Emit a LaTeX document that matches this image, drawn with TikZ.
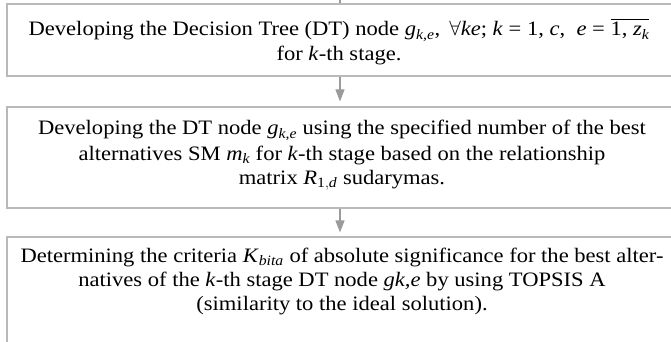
\documentclass[tikz,border=0pt]{standalone}
\usepackage{amsmath}
\usepackage{fontspec}
\setmainfont[FakeStretch=1.1]{Liberation Serif}
\usetikzlibrary{arrows.meta}
\newcommand\vi[1]{\text{\normalfont\itshape #1}}
\definecolor{boxgray}{RGB}{185,185,185}
\definecolor{arrgray}{RGB}{155,155,155}
\tikzset{
  box/.style={draw=boxgray, line width=1.1pt, rectangle, inner sep=0pt},
  txt/.style={anchor=base, inner sep=0pt, font=\fontsize{20.5}{24}\selectfont},
  arr/.style={draw=arrgray, line width=1.1pt, -{Triangle[width=9pt,length=12pt]}},
  stub/.style={draw=arrgray, line width=1.1pt}
}
\begin{document}
\begin{tikzpicture}[x=1pt,y=-1pt]
\useasboundingbox (0,0) rectangle (671,342);
\clip (0,0) rectangle (671,342);
\fill[white] (0,0) rectangle (671,342);
% boxes
\node[box, minimum width=667pt, minimum height=72pt] (b1) at (340.5,40) {};
\node[box, minimum width=667pt, minimum height=101pt] (b2) at (340.5,157.5) {};
\node[box, minimum width=667pt, minimum height=163pt] (b3) at (340.5,318.5) {};
% texts
\node[txt] (t1a) at (339,36) {Developing the Decision Tree (DT) node \textit{g}$_{\vi{k,e}}$, \,$\forall$\textit{ke}; \textit{k} = 1, \textit{c}, \ \textit{e} = $\overline{\text{1, \textit{z}}_{\vi{k}}}$};
\node[txt] (t1b) at (339,61) {for \textit{k}-th stage.};
\node[txt] (t2a) at (342,135) {Developing the DT node \textit{g}$_{\vi{k,e}}$ using the specified number of the best};
\node[txt] (t2b) at (342,160) {alternatives SM \textit{m}$_{\vi{k}}$ for \textit{k}-th stage based on the relationship};
\node[txt] (t2c) at (342,184) {matrix \textit{R}$_{\text{1},\vi{d}}$ sudarymas.};
\node[txt] (t3a) at (342,262) {Determining the criteria \textit{K}$_{\vi{bita}}$ of absolute significance for the best alter-};
\node[txt] (t3b) at (342,286) {natives of the \textit{k}-th stage DT node \textit{gk,e} by using TOPSIS A};
\node[txt] (t3c) at (342,310) {(similarity to the ideal solution).};
% connectors
\coordinate (ax) at (340,0);
\draw[stub] (ax) -- (b1.north -| ax);
\draw[arr] (b1.south -| ax) -- ([yshift=5pt]b2.north -| ax);
\draw[arr] (b2.south -| ax) -- ([yshift=4pt]b3.north -| ax);
\end{tikzpicture}
\end{document}
